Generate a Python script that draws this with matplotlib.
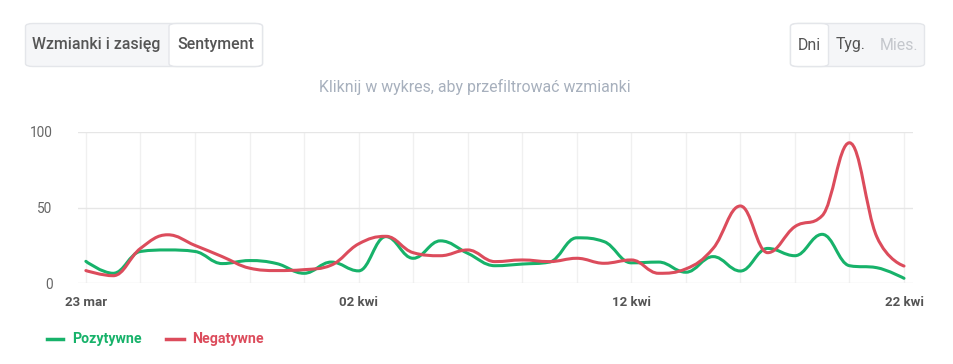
import matplotlib
matplotlib.use('Agg')
import matplotlib.pyplot as plt
from matplotlib.path import Path
from matplotlib.patches import PathPatch, FancyBboxPatch
from matplotlib.lines import Line2D
import numpy as np

plt.rcParams['font.family'] = ['Roboto', 'DejaVu Sans']

# days from 23 mar to 22 kwi
days = list(range(31))
tick_days = [0, 10, 20, 30]
tick_labels = ['23 mar', '02 kwi', '12 kwi', '22 kwi']

pozytywne = [14.5, 6.6, 21, 22, 21, 13, 15, 13, 6.6, 14, 8.2,
             30.8, 16.5, 28, 19.8, 11.6, 12.7, 14, 30, 27.5, 13.5,
             14, 7.3, 17.6, 8.1, 23, 18.2, 32.3, 11.6, 10.3, 3.3]
negatywne = [8.4, 5, 23, 32, 25, 17.6, 10, 8.4, 9, 12, 26,
             31, 20.2, 18.2, 22, 14.3, 15.4, 14.3, 16.5, 13.2, 15.4,
             6.6, 9.5, 23, 51, 20.2, 37.4, 44.6, 92.7, 30.8, 11.4]

GREEN = '#17b26a'
RED = '#dc4c5c'


def spline_path(ax, xs, ys):
    # highcharts-like spline, control points computed in pixel space
    pts = ax.transData.transform(np.column_stack([xs, ys]))
    n = len(pts)
    sm = 1.5
    den = sm + 1
    lc = pts.copy()
    rc = pts.copy()
    for i in range(1, n - 1):
        px, py = pts[i]
        lx, ly = pts[i - 1]
        nx, ny = pts[i + 1]
        lcx = (sm * px + lx) / den
        lcy = (sm * py + ly) / den
        rcx = (sm * px + nx) / den
        rcy = (sm * py + ny) / den
        corr = 0
        if rcx != lcx:
            corr = (rcy - lcy) * (rcx - px) / (rcx - lcx) + py - rcy
        lcy += corr
        rcy += corr
        if lcy > ly and lcy > py:
            lcy = max(ly, py)
            rcy = 2 * py - lcy
        elif lcy < ly and lcy < py:
            lcy = min(ly, py)
            rcy = 2 * py - lcy
        if rcy > ny and rcy > py:
            rcy = max(ny, py)
            lcy = 2 * py - rcy
        elif rcy < ny and rcy < py:
            rcy = min(ny, py)
            lcy = 2 * py - rcy
        lc[i] = (lcx, lcy)
        rc[i] = (rcx, rcy)
    verts = [pts[0]]
    codes = [Path.MOVETO]
    for i in range(1, n):
        verts += [rc[i - 1], lc[i], pts[i]]
        codes += [Path.CURVE4] * 3
    inv = ax.transData.inverted()
    return Path(inv.transform(np.array(verts)), codes)


fig = plt.figure(figsize=(9.54, 3.64), dpi=100)
ax = fig.add_axes([77.7 / 954, (364 - 283.3) / 364, (913 - 77.7) / 954, (283.3 - 131.7) / 364])
ax.set_xlim(-0.3, 30.33)
ax.set_ylim(0, 100)

for d in range(0, 31, 2):
    ax.axvline(d, color='#f0f0f0', lw=1, zorder=0)
for v in [0, 50, 100]:
    ax.axhline(v, color='#e6e6e6', lw=1, zorder=0.5)

for s in ax.spines.values():
    s.set_visible(False)
ax.set_yticks([0, 50, 100])
ax.set_yticklabels(['0', '50', '100'], color='#666666', fontsize=9.8)
ax.tick_params(axis='y', length=0, pad=18)
for lbl in ax.get_yticklabels():
    lbl.set_horizontalalignment('right')
ax.set_xticks(tick_days)
ax.set_xticklabels(tick_labels, color='#555555', fontsize=9.5, fontweight='bold')
ax.tick_params(axis='x', length=0, pad=9)

fig.canvas.draw()
for ys, c in [(pozytywne, GREEN), (negatywne, RED)]:
    p = spline_path(ax, days, ys)
    ax.add_patch(PathPatch(p, facecolor='none', edgecolor=c, lw=2.2, zorder=3,
                           capstyle='round', joinstyle='round'))

# buttons
def button_group(x0, x1, y0, y1, splits):
    h = y1 - y0
    fig.patches.append(FancyBboxPatch((x0 / 954, (364 - y1) / 364), (x1 - x0) / 954, h / 364,
                                      boxstyle='round,pad=0,rounding_size=0.008',
                                      transform=fig.transFigure, facecolor='#f5f6f8',
                                      edgecolor='#e4e6ea', lw=1, zorder=1))
    for a, b in splits:
        fig.patches.append(FancyBboxPatch((a / 954, (364 - y1) / 364), (b - a) / 954, h / 364,
                                          boxstyle='round,pad=0,rounding_size=0.008',
                                          transform=fig.transFigure, facecolor='white',
                                          edgecolor='#e4e6ea', lw=1, zorder=2))


button_group(25.5, 262.5, 23.5, 66.5, [(169, 262.5)])
button_group(790.5, 924.5, 23.5, 66.5, [(790.5, 828.5)])

by = 1 - 45 / 364
fig.text(96.5 / 954, by, 'Wzmianki i zasięg', ha='center', va='center',
         fontsize=11.4, fontweight='medium', color='#555555')
fig.text(215.5 / 954, by, 'Sentyment', ha='center', va='center',
         fontsize=11.4, fontweight='medium', color='#555555')
fig.text(809 / 954, by, 'Dni', ha='center', va='center',
         fontsize=11.4, color='#555555')
fig.text(851 / 954, by, 'Tyg.', ha='center', va='center',
         fontsize=11.4, color='#555555')
fig.text(899 / 954, by, 'Mies.', ha='center', va='center',
         fontsize=11.4, color='#c4c7cc')

fig.text(475 / 954, 1 - 87 / 364, 'Kliknij w wykres, aby przefiltrować wzmianki',
         ha='center', va='center', fontsize=11.4, color='#a7b0bd')

# legend
ly = 1 - 339 / 364
fig.lines.append(Line2D([47 / 954, 63 / 954], [ly, ly], transform=fig.transFigure,
                        color=GREEN, lw=2.5))
fig.text(72 / 954, ly, 'Pozytywne', ha='left', va='center', fontsize=10.2,
         fontweight='bold', color=GREEN)
fig.lines.append(Line2D([166 / 954, 184 / 954], [ly, ly], transform=fig.transFigure,
                        color=RED, lw=2.5))
fig.text(192 / 954, ly, 'Negatywne', ha='left', va='center', fontsize=10.2,
         fontweight='bold', color=RED)

fig.savefig('out.png', dpi=100, facecolor='white')
